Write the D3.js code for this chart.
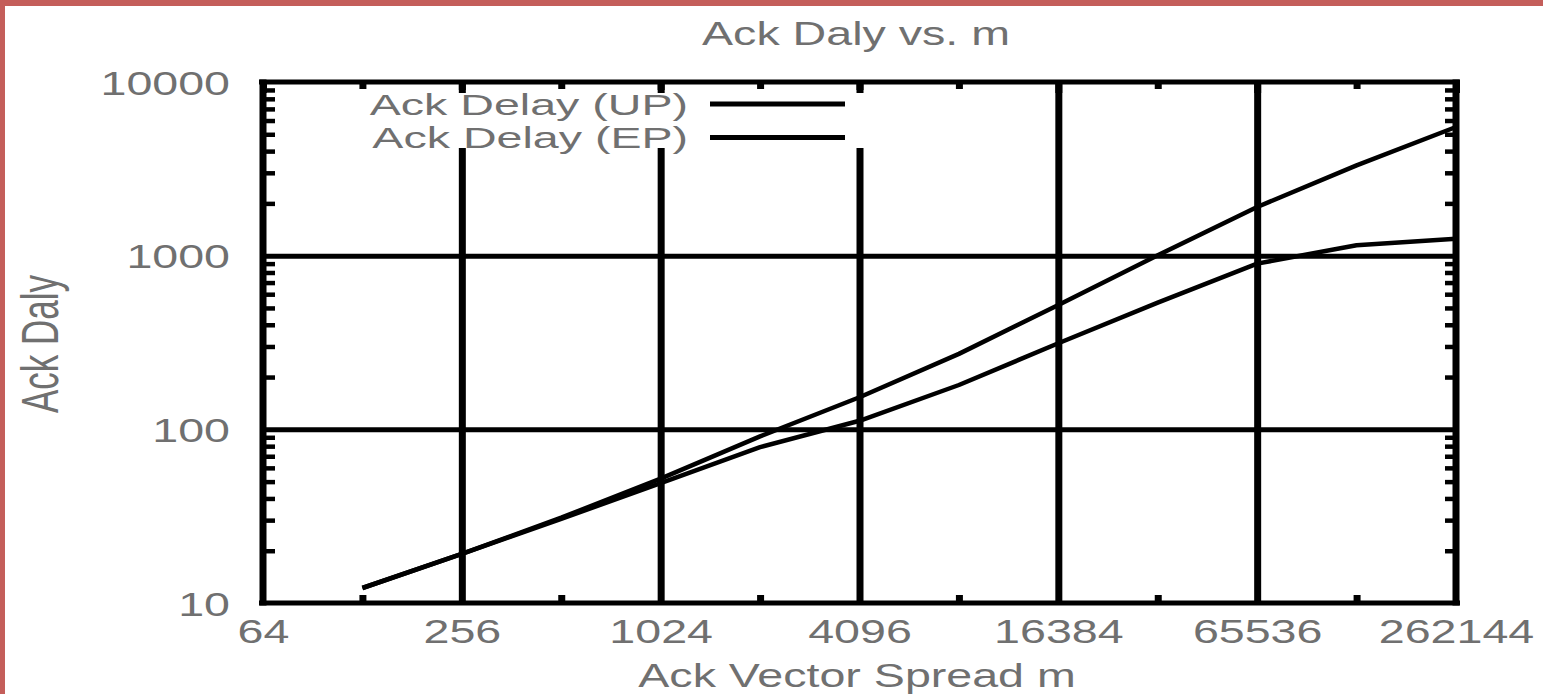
<!DOCTYPE html>
<html>
<head>
<meta charset="utf-8">
<script src="https://cdn.jsdelivr.net/npm/d3@7"></script>
<style>
  html, body { margin: 0; padding: 0; background: #fff; }
  svg { display: block; }
</style>
</head>
<body>
<svg id="chart" width="1543" height="694"></svg>
<script>
// Ack vector spread m (log base 2 axis)
const spread = [128, 256, 512, 1024, 2048, 4096, 8192, 16384, 32768, 65536, 131072, 262144];
// Ack delay, UP scheme
const ackDelayUP = [12.2, 19.2, 31, 52, 91, 153, 272, 520, 1005, 1906, 3311, 5508];
// Ack delay, EP scheme
const ackDelayEP = [12.2, 19.2, 30.5, 49, 79, 112, 180, 313, 537, 900, 1148, 1250];

const seriesNames = ["Ack Delay (UP)", "Ack Delay (EP)"];

const xTickValues = [64, 256, 1024, 4096, 16384, 65536, 262144];
const xTickLabels = ["64", "256", "1024", "4096", "16384", "65536", "262144"];
const xMinorTicks = [128, 512, 2048, 8192, 32768, 131072];
const yTickValues = [10, 100, 1000, 10000];
const yTickLabels = ["10", "100", "1000", "10000"];

const titleText = "Ack Daly vs. m";
const xTitle = "Ack Vector Spread m";
const yTitle = "Ack Daly";

// ---- layout ----
const W = 1543, H = 694;
const plotL = 263, plotR = 1456, plotT = 82, plotB = 603;
const SX = 1.37;              // horizontal stretch of the lettering
const FONT = "'Liberation Sans', Arial, sans-serif";
const TEXT_FILL = "#707070";

const svg = d3.select("#chart");
svg.append("rect").attr("width", W).attr("height", H).attr("fill", "#fff");

// frame accent on the top and left edges of the page
svg.append("rect").attr("x", 0).attr("y", 0).attr("width", W).attr("height", 6).attr("fill", "#c45e5a");
svg.append("rect").attr("x", 0).attr("y", 0).attr("width", 5).attr("height", H).attr("fill", "#c45e5a");

const x = d3.scaleLog().base(2).domain([64, 262144]).range([plotL, plotR]);
const y = d3.scaleLog().base(10).domain([10, 10000]).range([plotB, plotT]);

// ---- grid ----
svg.append("g")
  .attr("transform", `translate(0,${plotB})`)
  .call(d3.axisBottom(x).tickValues(xTickValues.slice(1, -1)).tickSize(-(plotB - plotT)).tickFormat(""))
  .call(g => g.select(".domain").remove())
  .call(g => g.selectAll("line").attr("stroke", "#000").attr("stroke-width", 7));

svg.append("g")
  .attr("transform", `translate(${plotL},0)`)
  .call(d3.axisLeft(y).tickValues(yTickValues.slice(1, -1)).tickSize(-(plotR - plotL)).tickFormat(""))
  .call(g => g.select(".domain").remove())
  .call(g => g.selectAll("line").attr("stroke", "#000").attr("stroke-width", 5));

// key background hides the grid behind the legend
svg.append("rect")
  .attr("x", 300).attr("y", 90).attr("width", 575).attr("height", 58)
  .attr("fill", "#fff");

// ---- minor / major ticks on the frame ----
function tickGroup(axis, tx, ty, width) {
  svg.append("g")
    .attr("transform", `translate(${tx},${ty})`)
    .call(axis)
    .call(g => g.select(".domain").remove())
    .call(g => g.selectAll("line").attr("stroke", "#000").attr("stroke-width", width));
}
tickGroup(d3.axisBottom(x).tickValues(xMinorTicks).tickSize(-8).tickFormat(""), 0, plotB, 7);
tickGroup(d3.axisTop(x).tickValues(xMinorTicks).tickSize(-7).tickFormat(""), 0, plotT, 7);
tickGroup(d3.axisTop(x).tickValues(xTickValues).tickSize(-11).tickFormat(""), 0, plotT, 7);

const yMinor = y.ticks().filter(v => !yTickValues.includes(v));
tickGroup(d3.axisLeft(y).tickValues(yMinor).tickSize(-12).tickFormat(""), plotL, 0, 4.5);
tickGroup(d3.axisRight(y).tickValues(yMinor).tickSize(-11).tickFormat(""), plotR, 0, 4.5);

// ---- plot border ----
const border = svg.append("g").attr("stroke", "#000");
border.append("line").attr("x1", plotL - 4).attr("x2", plotR + 4).attr("y1", plotT).attr("y2", plotT).attr("stroke-width", 5);
border.append("line").attr("x1", plotL - 4).attr("x2", plotR + 4).attr("y1", plotB).attr("y2", plotB).attr("stroke-width", 5);
border.append("line").attr("x1", plotL).attr("x2", plotL).attr("y1", plotT - 2.5).attr("y2", plotB + 2.5).attr("stroke-width", 7);
border.append("line").attr("x1", plotR).attr("x2", plotR).attr("y1", plotT - 2.5).attr("y2", plotB + 2.5).attr("stroke-width", 7);

// ---- tick labels ----
svg.append("g")
  .attr("transform", `translate(0,${plotB})`)
  .call(d3.axisBottom(x).tickValues(xTickValues).tickSize(0).tickFormat((d, i) => xTickLabels[i]))
  .call(g => g.select(".domain").remove())
  .call(g => g.selectAll("text")
    .attr("y", 40).attr("dy", 0)
    .attr("transform", `scale(${SX},1)`)
    .attr("fill", TEXT_FILL)
    .attr("font-family", FONT).attr("font-size", 34));

svg.append("g")
  .attr("transform", `translate(${plotL},0)`)
  .call(d3.axisLeft(y).tickValues(yTickValues).tickSize(0).tickFormat((d, i) => yTickLabels[i]))
  .call(g => g.select(".domain").remove())
  .call(g => g.selectAll("text")
    .attr("x", -33 / SX).attr("dy", "0.36em")
    .attr("transform", `scale(${SX},1)`)
    .attr("fill", TEXT_FILL)
    .attr("font-family", FONT).attr("font-size", 34));

// ---- data lines ----
const line = d3.line().x(d => x(d.m)).y(d => y(d.v));
const series = [ackDelayUP, ackDelayEP].map(vals => spread.map((m, i) => ({ m, v: vals[i] })));
svg.append("g").selectAll("path")
  .data(series)
  .join("path")
  .attr("d", line)
  .attr("fill", "none")
  .attr("stroke", "#000")
  .attr("stroke-width", 4.5)
  .attr("stroke-linejoin", "round");

// ---- legend ----
const legendRows = [104, 137.5];
const LEG_SIZE = 29.5;
const LEG_SX = 34 * SX / LEG_SIZE;
const legend = svg.append("g");
seriesNames.forEach((name, i) => {
  legend.append("text")
    .attr("transform", `translate(688,${legendRows[i] + 0.358 * LEG_SIZE}) scale(${LEG_SX},1)`)
    .attr("text-anchor", "end")
    .attr("font-family", FONT).attr("font-size", LEG_SIZE)
    .attr("fill", TEXT_FILL)
    .text(name);
  legend.append("line")
    .attr("x1", 710).attr("x2", 845)
    .attr("y1", legendRows[i]).attr("y2", legendRows[i])
    .attr("stroke", "#000").attr("stroke-width", 5);
});

// ---- titles ----
svg.append("text")
  .attr("transform", `translate(856,45) scale(${SX},1)`)
  .attr("text-anchor", "middle")
  .attr("font-family", FONT).attr("font-size", 34)
  .attr("fill", TEXT_FILL)
  .text(titleText);

svg.append("text")
  .attr("transform", `translate(857,687) scale(${SX},1)`)
  .attr("text-anchor", "middle")
  .attr("font-family", FONT).attr("font-size", 34)
  .attr("fill", TEXT_FILL)
  .text(xTitle);

svg.append("text")
  .attr("transform", `translate(58,344) scale(1.5,1) rotate(-90)`)
  .attr("text-anchor", "middle")
  .attr("font-family", FONT).attr("font-size", 35)
  .attr("fill", TEXT_FILL)
  .text(yTitle);
</script>
</body>
</html>
